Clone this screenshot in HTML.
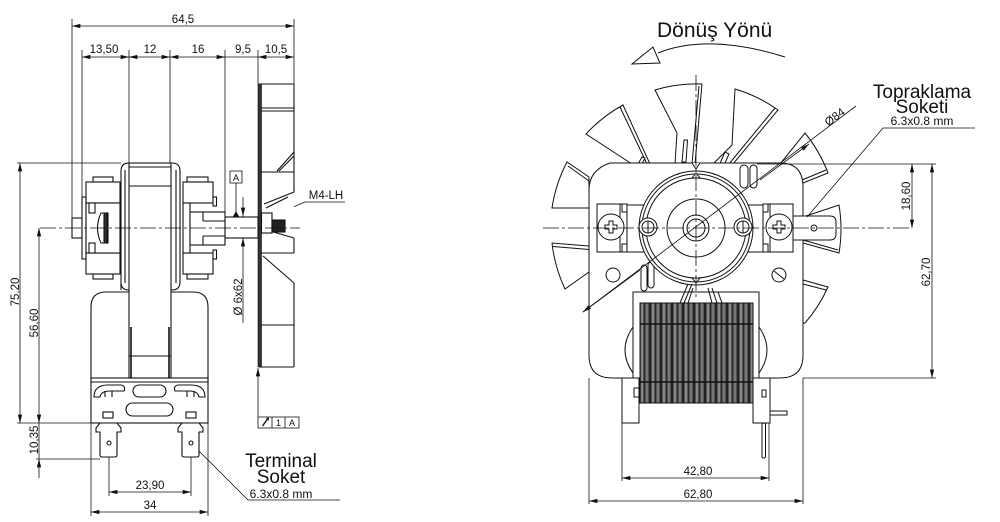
<!DOCTYPE html>
<html><head><meta charset="utf-8"><style>
html,body{margin:0;padding:0;background:#fff;}
svg{display:block;}
text{font-family:"Liberation Sans","DejaVu Sans",sans-serif;fill:#111;}
</style></head><body>
<svg width="1000" height="522" viewBox="0 0 1000 522" xmlns="http://www.w3.org/2000/svg">
<defs>
<marker id="ar" viewBox="0 0 10 6" refX="10" refY="3" markerWidth="9" markerHeight="5" markerUnits="userSpaceOnUse" orient="auto-start-reverse"><path d="M0,0.4 L10,3 L0,5.6 z" fill="#111"/></marker>
<pattern id="coil" width="11" height="10" patternUnits="userSpaceOnUse">
<rect x="0" y="0" width="11" height="10" fill="#555"/>
<rect x="0" y="0" width="2" height="10" fill="#222"/>
<rect x="3" y="0" width="2" height="10" fill="#888"/>
<rect x="6" y="0" width="1" height="10" fill="#2a2a2a"/>
<rect x="8" y="0" width="2" height="10" fill="#777"/>
</pattern>
</defs>

<!-- ================= LEFT VIEW ================= -->
<g stroke="#111" stroke-width="0.8" fill="none">
<!-- extension lines -->
<line x1="72" y1="19" x2="72" y2="218"/>
<line x1="294" y1="19" x2="294" y2="84"/>
<line x1="82" y1="50" x2="82" y2="197"/>
<line x1="129" y1="50" x2="129" y2="163"/>
<line x1="170" y1="50" x2="170" y2="163"/>
<line x1="225" y1="50" x2="225" y2="217"/>
<line x1="258" y1="50" x2="258" y2="84"/>
<!-- top dims -->
<line x1="72" y1="26" x2="294" y2="26" marker-start="url(#ar)" marker-end="url(#ar)"/>
<line x1="82" y1="57" x2="129" y2="57" marker-start="url(#ar)" marker-end="url(#ar)"/>
<line x1="129" y1="57" x2="170" y2="57" marker-start="url(#ar)" marker-end="url(#ar)"/>
<line x1="170" y1="57" x2="225" y2="57" marker-start="url(#ar)" marker-end="url(#ar)"/>
<line x1="225" y1="57" x2="258" y2="57"/>
<line x1="258" y1="57" x2="294" y2="57" marker-start="url(#ar)" marker-end="url(#ar)"/>
<!-- vertical dims -->
<line x1="17" y1="163" x2="121" y2="163"/>
<line x1="20" y1="163" x2="20" y2="423" marker-start="url(#ar)" marker-end="url(#ar)"/>
<line x1="39" y1="228" x2="39" y2="423" marker-start="url(#ar)" marker-end="url(#ar)"/>
<line x1="39" y1="478" x2="39" y2="459" marker-end="url(#ar)"/>
<line x1="39" y1="423" x2="39" y2="459"/>
<line x1="17" y1="423" x2="208" y2="423"/>
<line x1="36" y1="459" x2="100" y2="459"/>
<!-- bottom dims -->
<line x1="109" y1="446" x2="109" y2="496"/>
<line x1="191" y1="446" x2="191" y2="496"/>
<line x1="109" y1="492" x2="191" y2="492" marker-start="url(#ar)" marker-end="url(#ar)"/>
<line x1="91" y1="423" x2="91" y2="516"/>
<line x1="208" y1="423" x2="208" y2="516"/>
<line x1="91" y1="512" x2="208" y2="512" marker-start="url(#ar)" marker-end="url(#ar)"/>
<!-- terminal leader -->
<polyline points="197,449 248,500 340,500"/>
<!-- shaft dia dim -->
<line x1="243" y1="197" x2="243" y2="216" marker-end="url(#ar)"/>
<line x1="243" y1="323" x2="243" y2="238" marker-end="url(#ar)"/>
<line x1="243" y1="216" x2="243" y2="238"/>
<!-- datum A -->
<rect x="230" y="171" width="12" height="12" fill="#fff"/>
<line x1="236" y1="183" x2="236" y2="212"/>
<!-- runout -->
<line x1="258" y1="417" x2="258" y2="368" marker-end="url(#ar)"/>
<rect x="258" y="417" width="41" height="11" fill="#fff"/>
<line x1="272" y1="417" x2="272" y2="428"/>
<line x1="285" y1="417" x2="285" y2="428"/>
<!-- M4 leader -->
<polyline points="272,216 305,202 345,202"/>
</g>
<polygon points="233,216.5 239,216.5 236,211" fill="#111"/>
<line x1="262.5" y1="426" x2="267.5" y2="419" stroke="#111" stroke-width="1.4"/>
<polygon points="266,418 269,417.5 268.5,421" fill="#111"/>

<!-- left view body -->
<g stroke="#111" stroke-width="1.1" fill="#fff">
<!-- fan side -->
<rect x="259" y="84" width="35" height="283" stroke="none"/>
<line x1="259" y1="84" x2="294" y2="84"/>
<line x1="294" y1="84" x2="294" y2="192"/>
<line x1="259" y1="108" x2="294" y2="108"/>
<line x1="259" y1="111" x2="294" y2="111"/>
<line x1="259" y1="172" x2="294" y2="172"/>
<line x1="277" y1="171" x2="294" y2="152"/>
<line x1="279" y1="171" x2="294" y2="156"/>
<line x1="294" y1="192" x2="264" y2="204"/>
<line x1="288" y1="197" x2="266" y2="208"/>
<line x1="270" y1="231" x2="294" y2="238"/>
<line x1="294" y1="238" x2="294" y2="253"/>
<line x1="259" y1="253" x2="294" y2="253"/>
<line x1="263" y1="256" x2="294" y2="283"/>
<line x1="294" y1="283" x2="294" y2="367"/>
<line x1="259" y1="325" x2="294" y2="325"/>
<line x1="259" y1="367" x2="294" y2="367"/>
<rect x="258" y="84" width="3.5" height="283" fill="#333" stroke="#111" stroke-width="0.6"/>
<rect x="261.5" y="213" width="10.5" height="20"/>
<rect x="272" y="220" width="13" height="12" fill="#222"/>
<!-- shaft -->
<rect x="225" y="217" width="33" height="21"/>
<rect x="72" y="218" width="10" height="20"/>
<!-- housing -->
<path d="M91,382 L91,307 Q91,292 106,292 L193,292 Q208,292 208,307 L208,382 Z"/>
<rect x="91" y="378" width="117" height="45"/>
<line x1="91" y1="382" x2="208" y2="382"/>
<rect x="133" y="385" width="33" height="12" rx="6"/>
<rect x="126" y="403" width="47" height="13" rx="6.5"/>
<path d="M94,397 Q94,385 108,385 L121,385 Q126,386 124,391 L110,391 Q101,391 100,397 Z"/>
<path d="M205,397 Q205,385 191,385 L178,385 Q173,386 175,391 L189,391 Q198,391 199,397 Z"/>
<line x1="105" y1="391" x2="105" y2="397"/><line x1="112" y1="391" x2="112" y2="397"/>
<line x1="187" y1="391" x2="187" y2="397"/><line x1="194" y1="391" x2="194" y2="397"/>
<rect x="103" y="412" width="10" height="6"/>
<rect x="186" y="412" width="10" height="6"/>
<!-- terminals -->
<path d="M100,423 L96,428 L96,432 L100,432 L100,455 Q100,457 102,457 L115,457 Q117,457 117,455 L117,432 L121,432 L121,428 L117,423 Z"/>
<path d="M182,423 L178,428 L178,432 L182,432 L182,455 Q182,457 184,457 L197,457 Q199,457 199,455 L199,432 L203,432 L203,428 L199,423 Z"/>
<circle cx="109" cy="443" r="2"/>
<circle cx="191" cy="443" r="2"/>
<!-- stator frame -->
<path d="M121,290 L121,171 Q121,163 129,163 L172,163 Q180,163 180,171 L180,282 Q180,290 172,290 L129,290 Q121,290 121,282 Z"/>
<line x1="125" y1="170" x2="125" y2="283"/>
<line x1="176" y1="170" x2="176" y2="283"/>
<rect x="129" y="163" width="42" height="215"/>
<line x1="129" y1="167" x2="171" y2="167"/>
<line x1="129" y1="186" x2="171" y2="186"/>
<line x1="129" y1="356" x2="171" y2="356"/>
<line x1="131" y1="327" x2="131" y2="378" stroke-width="1.6"/>
<line x1="169" y1="327" x2="169" y2="378" stroke-width="1.6"/>
<!-- left blocks -->
<rect x="82" y="197" width="4" height="62"/>
<rect x="93" y="177" width="20" height="5"/>
<rect x="86" y="182" width="34" height="21"/>
<rect x="93" y="274" width="20" height="5"/>
<rect x="86" y="253" width="34" height="21"/>
<rect x="86" y="203" width="34" height="50"/>
<rect x="89" y="203" width="6" height="10"/>
<rect x="89" y="243" width="6" height="10"/>
<path d="M108,213 L101,213 Q94,228 101,243 L108,243 Z"/>
<rect x="104" y="213" width="3" height="30" fill="#333"/>
<!-- right blocks -->
<rect x="187" y="177" width="21" height="5"/>
<rect x="183" y="182" width="30" height="21"/>
<rect x="213" y="197" width="3.5" height="9"/>
<rect x="187" y="274" width="21" height="5"/>
<rect x="183" y="253" width="30" height="21"/>
<rect x="213" y="250" width="3.5" height="9"/>
<rect x="183" y="203" width="7" height="50"/>
<rect x="190" y="212" width="35" height="33"/>
<line x1="203" y1="212" x2="203" y2="221"/>
<line x1="203" y1="221" x2="225" y2="221"/>
<line x1="203" y1="236" x2="225" y2="236"/>
<line x1="203" y1="236" x2="203" y2="245"/>
</g>
<line x1="40" y1="228" x2="300" y2="228" stroke="#111" stroke-width="0.8" stroke-dasharray="16,3,3,3"/>

<!-- left texts -->
<g font-size="11.5" text-anchor="middle">
<text x="183" y="23">64,5</text>
<text x="104" y="53">13,50</text>
<text x="150" y="53">12</text>
<text x="198" y="53">16</text>
<text x="243" y="53">9,5</text>
<text x="276" y="53">10,5</text>
<text transform="translate(19,292) rotate(-90)">75,20</text>
<text transform="translate(38,323) rotate(-90)">56,60</text>
<text transform="translate(38,440) rotate(-90)">10,35</text>
<text transform="translate(242,297) rotate(-90)">Ø 6x62</text>
<text x="150" y="489">23,90</text>
<text x="150" y="509">34</text>
<text x="326" y="199">M4-LH</text>
<text x="236" y="181" font-size="9.5">A</text>
<text x="278.5" y="426" font-size="9">1</text>
<text x="292" y="426" font-size="9">A</text>
<text x="281" y="498" font-size="12">6.3x0.8 mm</text>
</g>
<g font-size="19" text-anchor="middle">
<text x="281" y="467">Terminal</text>
<text x="281" y="483">Soket</text>
</g>

<!-- ================= RIGHT VIEW ================= -->
<!-- rotation arrow -->
<path d="M658,53 Q708,33 785,57" fill="none" stroke="#111" stroke-width="1"/>
<polygon points="632,64 653,47 660,63" fill="#fff" stroke="#111" stroke-width="1"/>
<text x="657" y="37" font-size="21">Dönüş Yönü</text>

<g stroke="#111" stroke-width="1" fill="#fff">
<!-- blades -->
<path d="M632,164 L586,134 A145,145 0 0 1 623,105 L650,164 Z"/>
<line x1="620" y1="107" x2="647" y2="164"/>
<path d="M675,164 L677,133 L655,90 A145,145 0 0 1 702,84 L695,164 Z"/>
<line x1="699" y1="86" x2="692" y2="164"/>
<path d="M682,162 L684,140 L687.5,140 L686,162 Z"/>
<path d="M713,164 L732,145 L735,89 A145,145 0 0 1 778,110 L733,164 Z"/>
<line x1="775" y1="108" x2="729" y2="164"/>
<path d="M718,168 L725,152 L729,154 L722,170 Z"/>
<path d="M780,164 L805,133 A145,145 0 0 1 828,173 L803,183 Z"/>
<line x1="826" y1="170" x2="802" y2="180"/>
<path d="M803,217 L839,205 A145,145 0 0 1 839,253 L803,243 Z"/>
<line x1="838" y1="250" x2="803" y2="240"/>
<path d="M803,280 L828,287 A145,145 0 0 1 805,323 L803,323 Z"/>
<line x1="826" y1="290" x2="803" y2="284"/>
<path d="M589,177 L567,162 A145,145 0 0 0 552,208 L589,208 Z"/>
<line x1="568" y1="166" x2="589" y2="181"/>
<path d="M589,246 L552,243 A145,145 0 0 0 565,289 L589,272 Z"/>
<line x1="553" y1="246.5" x2="589" y2="249.5"/>
<path d="M638,164 L642,157 L645,158 L642,164 Z"/>
<!-- frame -->
<path d="M610,163 L780,163 Q803,163 803,187 L803,355 Q803,378 780,378 L612,378 Q589,378 589,355 L589,190 Q589,170 610,163 Z"/>
<path d="M692,163 L696,169 L700,163"/>
<rect x="740" y="165" width="8" height="23" rx="4"/>
<rect x="750" y="165" width="7" height="23" rx="3.5"/>
<rect x="641" y="265" width="6" height="26" rx="3"/>
<rect x="648" y="262" width="6" height="26" rx="3"/>
<!-- terminal bar -->
<rect x="627" y="205" width="136" height="47"/>
<rect x="597" y="204" width="30" height="48"/>
<line x1="620" y1="204" x2="620" y2="252"/>
<rect x="622" y="204" width="5" height="8"/><rect x="622" y="244" width="5" height="8"/>
<rect x="763" y="204" width="30" height="48"/>
<line x1="770" y1="204" x2="770" y2="252"/>
<rect x="763" y="204" width="5" height="8"/><rect x="763" y="244" width="5" height="8"/>
<!-- rotor -->
<circle cx="696" cy="228" r="57"/>
<circle cx="696" cy="228" r="54" fill="none"/>
<circle cx="696" cy="228" r="50" fill="none"/>
<path d="M692,178 L696,173 L700,178 Z"/>
<path d="M692,278 L696,283 L700,278 Z"/>
<circle cx="696" cy="228" r="29"/>
<circle cx="696" cy="228" r="13"/>
<circle cx="696" cy="228" r="9"/>
<!-- rivets -->
<circle cx="648" cy="227" r="9"/>
<circle cx="648" cy="227" r="6"/>
<line x1="648" y1="221" x2="648" y2="233"/>
<circle cx="743" cy="227" r="9"/>
<circle cx="743" cy="227" r="6"/>
<line x1="743" y1="221" x2="743" y2="233"/>
<!-- screws -->
<circle cx="611" cy="227" r="13"/>
<path d="M605,225 L609,225 L609,221 L613,221 L613,225 L617,225 L617,229 L613,229 L613,233 L609,233 L609,229 L605,229 Z"/>
<circle cx="779" cy="227" r="13"/>
<path d="M773,225 L777,225 L777,221 L781,221 L781,225 L785,225 L785,229 L781,229 L781,233 L777,233 L777,229 L773,229 Z"/>
<!-- ground tab -->
<path d="M793,216 L830,216 Q836,216 836,222 L836,234 Q836,240 830,240 L793,240 Z"/>
<circle cx="814" cy="228" r="3"/>
<!-- holes -->
<circle cx="613" cy="275" r="7"/>
<circle cx="779" cy="275" r="7"/>
<line x1="774" y1="271" x2="784" y2="279"/>
<!-- window / coil -->
<rect x="633" y="292" width="126" height="86"/>
<path d="M633,327 Q617,350 633,373" fill="none"/>
<path d="M759,327 Q775,350 759,373" fill="none"/>
<line x1="680" y1="303" x2="688" y2="284"/>
<line x1="684" y1="303" x2="692" y2="284"/>
<line x1="688" y1="303" x2="693" y2="288"/>
<line x1="712" y1="303" x2="708" y2="288"/>
<line x1="717" y1="303" x2="712" y2="288"/>
<line x1="722" y1="303" x2="718" y2="292"/>
<rect x="622" y="378" width="17" height="45"/>
<rect x="634" y="388" width="5" height="9"/>
<rect x="753" y="378" width="17" height="45"/>
<rect x="762" y="390" width="4" height="7"/>
<rect x="770" y="411" width="17" height="4"/>
<rect x="762" y="423" width="3.5" height="35" rx="1.5"/>
<rect x="640" y="303" width="113" height="100" fill="url(#coil)"/>
<line x1="640" y1="324" x2="753" y2="324" stroke-width="1.6"/>
<line x1="640" y1="382" x2="753" y2="382" stroke-width="1.6"/>
</g>

<!-- right center lines & dims -->
<g stroke="#111" stroke-width="0.8" fill="none">
<line x1="543" y1="228" x2="912" y2="228" stroke-dasharray="16,3,3,3"/>
<line x1="696" y1="75" x2="696" y2="300" stroke-dasharray="16,3,3,3"/>
<line x1="856" y1="106" x2="583" y2="312"/>
<line x1="760" y1="180" x2="809" y2="144" marker-end="url(#ar)"/>
<line x1="640" y1="270" x2="583" y2="312" marker-end="url(#ar)"/>
<polyline points="975,128 883,128 807,217"/>
<line x1="757" y1="164" x2="936" y2="164"/>
<line x1="803" y1="378" x2="936" y2="378"/>
<line x1="912" y1="164" x2="912" y2="228" marker-start="url(#ar)" marker-end="url(#ar)"/>
<line x1="932" y1="164" x2="932" y2="378" marker-start="url(#ar)" marker-end="url(#ar)"/>
<line x1="622" y1="423" x2="622" y2="481"/>
<line x1="769" y1="423" x2="769" y2="481"/>
<line x1="622" y1="478" x2="769" y2="478" marker-start="url(#ar)" marker-end="url(#ar)"/>
<line x1="589" y1="378" x2="589" y2="504"/>
<line x1="803" y1="378" x2="803" y2="504"/>
<line x1="589" y1="501" x2="803" y2="501" marker-start="url(#ar)" marker-end="url(#ar)"/>
</g>

<g font-size="11.5" text-anchor="middle">
<text transform="translate(837,120) rotate(-36.7)">Ø84</text>
<text transform="translate(910,196) rotate(-90)">18,60</text>
<text transform="translate(930,272) rotate(-90)">62,70</text>
<text x="698" y="475">42,80</text>
<text x="698" y="498">62,80</text>
<text x="922" y="125" font-size="12">6.3x0.8 mm</text>
</g>
<g font-size="19" text-anchor="middle">
<text x="922" y="98">Topraklama</text>
<text x="922" y="113">Soketi</text>
</g>
</svg>
</body></html>
